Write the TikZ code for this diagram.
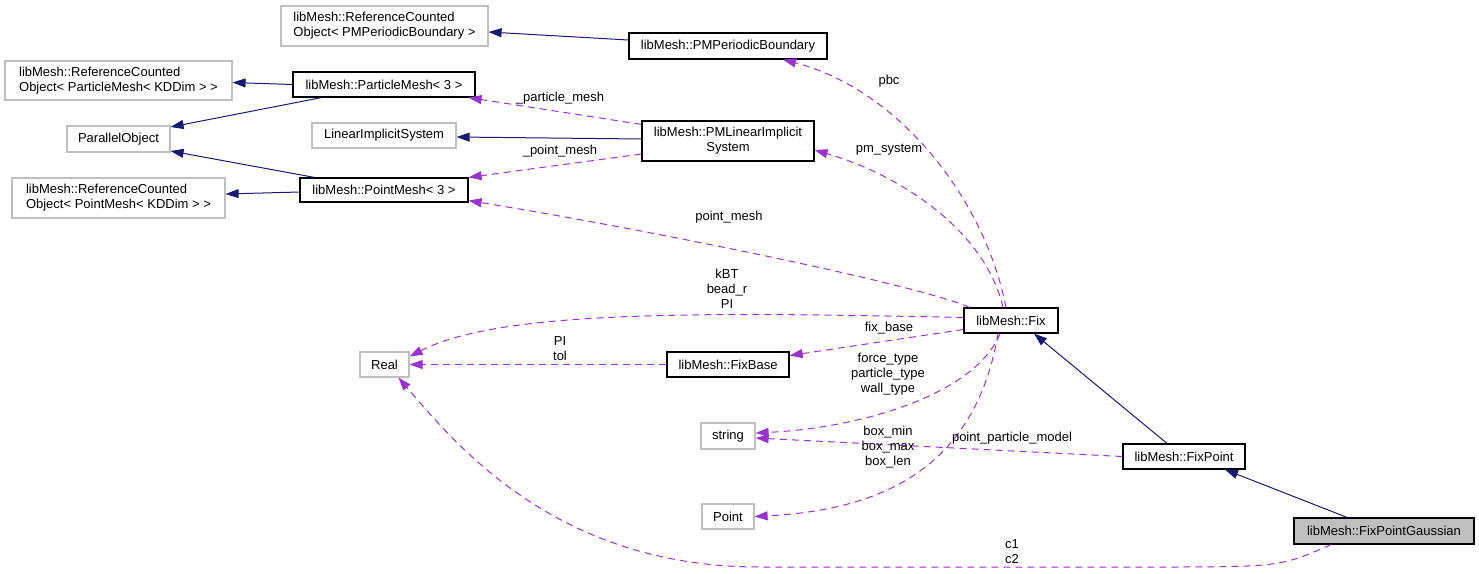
\documentclass[tikz,border=0pt]{standalone}
\usepackage{fontspec}
\setmainfont{Liberation Sans}
\usepackage{tikz}
\usetikzlibrary{arrows.meta}
\definecolor{inhcol}{HTML}{191970}
\definecolor{usecol}{HTML}{9A32CD}
\definecolor{boxgrey}{HTML}{BFBFBF}

\begin{document}
\begin{tikzpicture}[x=1pt,y=-1pt,
    every node/.style={font=\fontsize{13}{15}\selectfont, inner sep=0pt},
    cls/.style={draw=black, line width=1.2pt, minimum height=25pt},
    ext/.style={draw=boxgrey, line width=1.2pt, minimum height=25pt},
    inh/.style={draw=inhcol, line width=1pt, -{Triangle[length=13pt,width=9pt]}},
    use/.style={draw=usecol, line width=1pt, dash pattern=on 7pt off 5pt, -{Triangle[length=13pt,width=9pt]}},
    lbl/.style={align=center},
  ]
  \useasboundingbox (0,0) rectangle (1479,573);

  \node[ext, align=left, minimum width=207pt, minimum height=40pt] (rcoPbc) at (384.5,26) {libMesh::ReferenceCounted\\Object< PMPeriodicBoundary >};
  \node[ext, align=left, minimum width=227pt, minimum height=39pt] (rcoPart) at (118.5,80.5) {libMesh::ReferenceCounted\\Object< ParticleMesh< KDDim > >};
  \node[ext, align=left, minimum width=213pt, minimum height=40pt] (rcoPoint) at (118.5,198) {libMesh::ReferenceCounted\\Object< PointMesh< KDDim > >};
  \node[ext, minimum width=103pt, minimum height=26pt] (parObj) at (118.5,139) {ParallelObject};

  \node[cls, minimum width=182pt] (partMesh) at (384,84.5) {libMesh::ParticleMesh< 3 >};
  \node[ext, minimum width=144pt] (linSys) at (384,135.5) {LinearImplicitSystem};
  \node[cls, minimum width=168pt, minimum height=24pt] (pointMesh) at (384,190) {libMesh::PointMesh< 3 >};
  \node[ext, minimum width=49pt] (real) at (384.5,364.5) {Real};

  \node[cls, minimum width=198pt, minimum height=26pt] (pmpb) at (728,46) {libMesh::PMPeriodicBoundary};
  \node[cls, align=center, minimum width=172pt, minimum height=40pt] (pmlis) at (728,141) {libMesh::PMLinearImplicit\\System};
  \node[cls, minimum width=122pt] (fixBase) at (728,364.5) {libMesh::FixBase};
  \node[ext, minimum width=54pt, minimum height=26pt] (strType) at (728,436) {string};
  \node[ext, minimum width=52pt] (pointType) at (728,516.5) {Point};

  \node[cls, minimum width=94pt] (fix) at (1011,320.5) {libMesh::Fix};
  \node[cls, minimum width=122pt] (fixPoint) at (1184,456.5) {libMesh::FixPoint};
  \node[cls, fill=boxgrey, minimum width=180pt, minimum height=26pt] (fpg) at (1384,531) {libMesh::FixPointGaussian};

  % inheritance
  \draw[inh] ([yshift=6pt]pmpb.west) -- ([yshift=-6pt]rcoPbc.east);
  \draw[inh] (partMesh.west) -- ([yshift=-2pt]rcoPart.east);
  \draw[inh] ([xshift=29pt]partMesh.south west) -- ([yshift=12pt]parObj.east);
  \draw[inh] ([xshift=15pt]pointMesh.north west) -- ([yshift=-12pt]parObj.east);
  \draw[inh] ([yshift=-2pt]pointMesh.west) -- ([yshift=4pt]rcoPoint.east);
  \draw[inh] ([yshift=2pt]pmlis.west) -- ([yshift=-1.5pt]linSys.east);
  \draw[inh] ([xshift=-17pt]fixPoint.north) -- ([xshift=23pt]fix.south);
  \draw[inh] ([xshift=-37pt]fpg.north) -- ([xshift=41pt]fixPoint.south);

  % members
  \draw[use] ([xshift=-5pt]fix.north) .. controls (985,200) and (900,90) .. ([xshift=55pt]pmpb.south);
  \draw[use] ([xshift=-8pt]fix.north) .. controls (985,230) and (900,175) .. ([yshift=-9pt]pmlis.east);
  \draw[use] ([xshift=6pt]fix.north west) .. controls (920,285) and (650,230) .. ([yshift=2pt]pointMesh.south east);
  \draw[use] ([yshift=3pt]fix.west) .. controls (700,312) and (500,310) .. ([yshift=8pt]real.east);
  \draw[use] ([yshift=-9pt]fix.west) -- ([yshift=9pt]fixBase.east);
  \draw[use] (fixBase.west) -- (real.east);
  \draw[use] ([xshift=-11pt]fix.south) .. controls (975,395) and (860,428) .. ([yshift=3pt]strType.east);
  \draw[use] ([xshift=-13pt]fix.south) .. controls (975,470) and (880,510) .. (pointType.east);
  \draw[use] (fixPoint.west) -- ([yshift=-2pt]strType.east);
  \draw[use] ([xshift=-53pt]fpg.south) .. controls (1280,567) .. (1150,567) -- (760,567)
    .. controls (560,567) and (460,450) .. ([xshift=14pt]real.south);
  \draw[use] ([yshift=-4pt]pmlis.north west) -- ([xshift=-7pt]partMesh.south east);
  \draw[use] ([yshift=-13pt]pmlis.west) -- (pointMesh.north east);

  \node (lPbc) at (889,81) {pbc};
  \node (lPmSys) at (889,150) {pm\_system};
  \node (lPartMesh) at (560,98) {\_particle\_mesh};
  \node (lPtMesh) at (560,151) {\_point\_mesh};
  \node (lPointMesh) at (729,217) {point\_mesh};
  \node[lbl] (lKbt) at (727,289) {kBT\\bead\_r\\PI};
  \node[lbl] (lTol) at (560,348.5) {PI\\tol};
  \node (lFixBase) at (889,328) {fix\_base};
  \node[lbl] (lTypes) at (888,374) {force\_type\\particle\_type\\wall\_type};
  \node[lbl] (lBox) at (888,447) {box\_min\\box\_max\\box\_len};
  \node (lModel) at (1012,438) {point\_particle\_model};
  \node[lbl] (lC) at (1012,552) {c1\\c2};

\end{tikzpicture}
\end{document}
